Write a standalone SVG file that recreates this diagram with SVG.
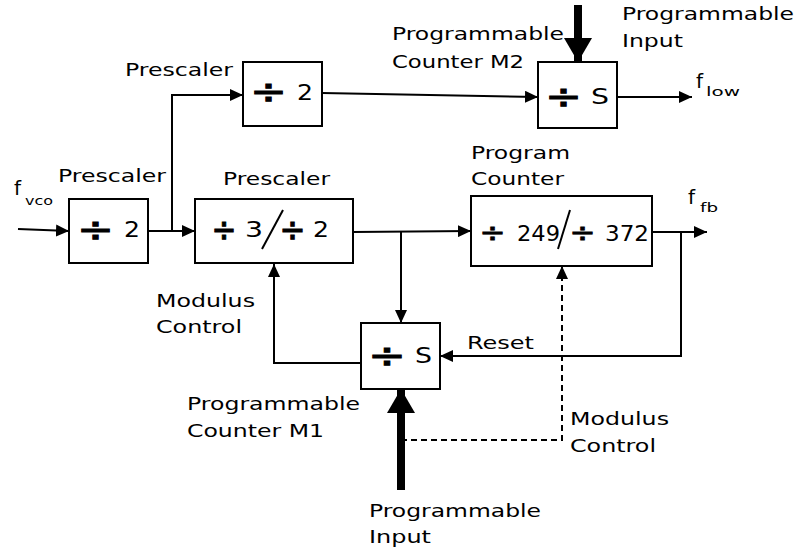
<svg xmlns="http://www.w3.org/2000/svg" width="796" height="551" viewBox="0 0 796 551">
<defs>
<style>
.box{fill:#fff;stroke:#000;stroke-width:2}
.ln{fill:none;stroke:#000;stroke-width:2}
.dash{fill:none;stroke:#000;stroke-width:2;stroke-dasharray:6,4}
.thick{fill:none;stroke:#000;stroke-width:8}
text{font-family:"DejaVu Sans","Liberation Sans",sans-serif;fill:#000}
.lb{font-size:17.5px}
.ff{font-size:20px}
.sub{font-size:13px}
.dv{font-size:35px;stroke:#000;stroke-width:0.9}
.dvs{font-size:27px;stroke:#000;stroke-width:0.8}
.dg{font-size:22px}
</style>
<marker id="ah" markerUnits="userSpaceOnUse" markerWidth="14" markerHeight="12" refX="13" refY="6" orient="auto"><path d="M0,0 L13,6 L0,12 z" fill="#000"/></marker>
<marker id="th" markerUnits="userSpaceOnUse" markerWidth="26" markerHeight="28" refX="24" refY="14" orient="auto"><path d="M0,0 L24,14 L0,28 z" fill="#000"/></marker>
</defs>
<g id="connectors">
<path class="ln" d="M18,229 L69,231" marker-end="url(#ah)"/>
<path class="ln" d="M148,231 L195,231" marker-end="url(#ah)"/>
<path class="ln" d="M172,231 L172,95 L243,95" marker-end="url(#ah)"/>
<path class="ln" d="M322,93 L538,97" marker-end="url(#ah)"/>
<path class="ln" d="M617,97 L692,97" marker-end="url(#ah)"/>
<path class="ln" d="M353,232 L471,231" marker-end="url(#ah)"/>
<path class="ln" d="M401,232 L401,323" marker-end="url(#ah)"/>
<path class="ln" d="M652,232 L707,232" marker-end="url(#ah)"/>
<path class="ln" d="M681,232 L681,356 L440,356" marker-end="url(#ah)"/>
<path class="ln" d="M361,363 L274,363 L274,264" marker-end="url(#ah)"/>
<path class="dash" d="M401,440 L562,440 L562,266" marker-end="url(#ah)"/>
<path class="thick" d="M578,5 L578,62" marker-end="url(#th)"/>
<path class="thick" d="M401,490 L401,389" marker-end="url(#th)"/>
</g>
<g id="prescaler1">
<rect class="box" x="69" y="199" width="79" height="64"/>
<text class="dv" x="77" y="242" textLength="37" lengthAdjust="spacingAndGlyphs">÷</text>
<text class="dg" x="124" y="237" textLength="16" lengthAdjust="spacingAndGlyphs">2</text>
<text class="lb" x="58" y="182" textLength="108" lengthAdjust="spacingAndGlyphs">Prescaler</text>
</g>
<g id="prescaler2">
<rect class="box" x="195" y="199" width="158" height="64"/>
<text class="dv" x="211.5" y="242" textLength="25" lengthAdjust="spacingAndGlyphs">÷</text>
<text class="dg" x="245" y="237" textLength="18" lengthAdjust="spacingAndGlyphs">3</text>
<line class="ln" x1="262" y1="249" x2="283" y2="210"/>
<text class="dv" x="279.5" y="242" textLength="26" lengthAdjust="spacingAndGlyphs">÷</text>
<text class="dg" x="313" y="237" textLength="16" lengthAdjust="spacingAndGlyphs">2</text>
<text class="lb" x="223" y="185" textLength="107" lengthAdjust="spacingAndGlyphs">Prescaler</text>
</g>
<g id="prescaler3">
<rect class="box" x="243" y="62" width="79" height="64"/>
<text class="dv" x="250" y="104" textLength="37" lengthAdjust="spacingAndGlyphs">÷</text>
<text class="dg" x="297" y="100" textLength="16" lengthAdjust="spacingAndGlyphs">2</text>
<text class="lb" x="125" y="76" textLength="108" lengthAdjust="spacingAndGlyphs">Prescaler</text>
</g>
<g id="counterM2">
<rect class="box" x="538" y="62" width="79" height="66"/>
<text class="dv" x="545" y="109" textLength="37" lengthAdjust="spacingAndGlyphs">÷</text>
<text class="dg" x="591" y="104" textLength="18" lengthAdjust="spacingAndGlyphs">S</text>
<text class="lb" x="392" y="40" textLength="172" lengthAdjust="spacingAndGlyphs">Programmable</text>
<text class="lb" x="392" y="68" textLength="132" lengthAdjust="spacingAndGlyphs">Counter M2</text>
</g>
<g id="inputM2">
<text class="lb" x="622" y="20" textLength="172" lengthAdjust="spacingAndGlyphs">Programmable</text>
<text class="lb" x="622" y="47" textLength="61" lengthAdjust="spacingAndGlyphs">Input</text>
</g>
<g id="flow">
<text class="ff" x="696" y="88">f</text>
<text class="sub" x="706" y="96" textLength="34" lengthAdjust="spacingAndGlyphs">low</text>
</g>
<g id="fvco">
<text class="ff" x="14" y="195">f</text>
<text class="sub" x="25" y="205" textLength="28" lengthAdjust="spacingAndGlyphs">vco</text>
</g>
<g id="programCounter">
<rect class="box" x="471" y="196" width="181" height="70"/>
<text class="dvs" x="479.5" y="242" textLength="26" lengthAdjust="spacingAndGlyphs">÷</text>
<text class="dg" x="517" y="241" textLength="43" lengthAdjust="spacingAndGlyphs">249</text>
<line class="ln" x1="558" y1="249" x2="570" y2="210"/>
<text class="dvs" x="569.5" y="242" textLength="26" lengthAdjust="spacingAndGlyphs">÷</text>
<text class="dg" x="605" y="241" textLength="44" lengthAdjust="spacingAndGlyphs">372</text>
<text class="lb" x="471" y="159" textLength="99" lengthAdjust="spacingAndGlyphs">Program</text>
<text class="lb" x="471" y="185" textLength="93" lengthAdjust="spacingAndGlyphs">Counter</text>
</g>
<g id="ffb">
<text class="ff" x="688" y="204">f</text>
<text class="sub" x="700" y="212" textLength="18" lengthAdjust="spacingAndGlyphs">fb</text>
</g>
<g id="counterM1">
<rect class="box" x="361" y="323" width="79" height="66"/>
<text class="dv" x="368" y="368" textLength="38" lengthAdjust="spacingAndGlyphs">÷</text>
<text class="dg" x="415" y="363" textLength="17" lengthAdjust="spacingAndGlyphs">S</text>
<text class="lb" x="187" y="410" textLength="173" lengthAdjust="spacingAndGlyphs">Programmable</text>
<text class="lb" x="187" y="437" textLength="137" lengthAdjust="spacingAndGlyphs">Counter M1</text>
</g>
<g id="modulusControl1">
<text class="lb" x="156" y="307" textLength="99" lengthAdjust="spacingAndGlyphs">Modulus</text>
<text class="lb" x="156" y="333" textLength="86" lengthAdjust="spacingAndGlyphs">Control</text>
</g>
<g id="reset">
<text class="lb" x="467" y="349" textLength="67" lengthAdjust="spacingAndGlyphs">Reset</text>
</g>
<g id="modulusControl2">
<text class="lb" x="570" y="425" textLength="99" lengthAdjust="spacingAndGlyphs">Modulus</text>
<text class="lb" x="570" y="452" textLength="86" lengthAdjust="spacingAndGlyphs">Control</text>
</g>
<g id="inputM1">
<text class="lb" x="369" y="517" textLength="172" lengthAdjust="spacingAndGlyphs">Programmable</text>
<text class="lb" x="369" y="543" textLength="62" lengthAdjust="spacingAndGlyphs">Input</text>
</g>
</svg>
